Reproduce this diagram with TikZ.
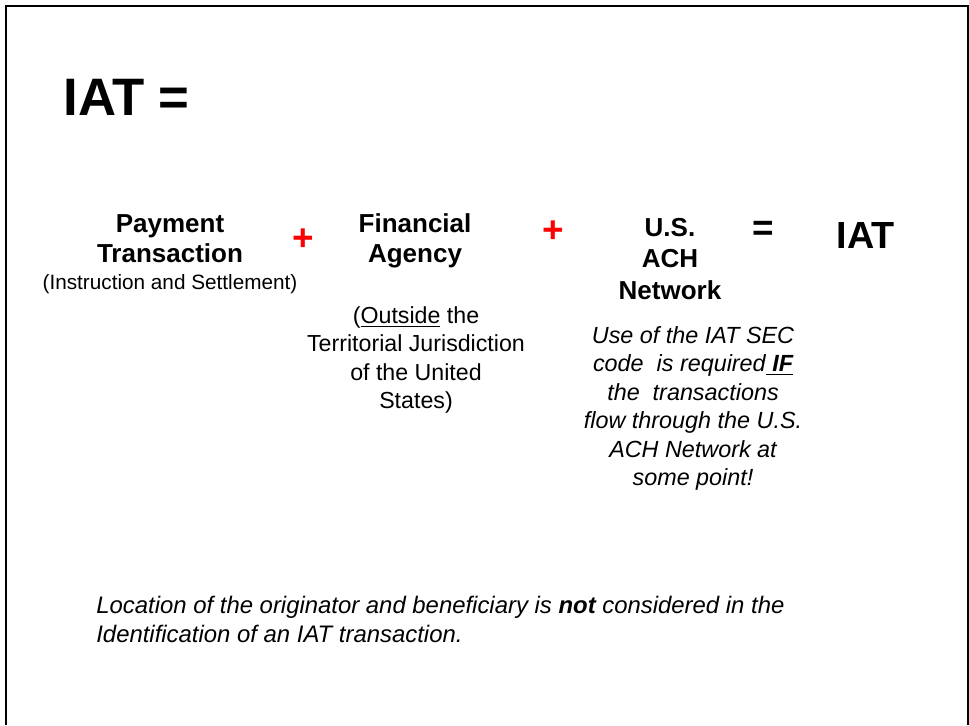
\documentclass[tikz,border=0pt]{standalone}
\usepackage{fontspec}
\setmainfont{Liberation Sans}
\tikzset{
  heading/.style={font=\bfseries\fontsize{14.8}{17}\selectfont, align=center, anchor=north, inner sep=0pt},
  note/.style={font=\fontsize{13.2}{16.2}\selectfont, align=center, anchor=north, inner sep=0pt},
  remark/.style={font=\itshape\fontsize{13.3}{16.2}\selectfont, align=center, anchor=north, inner sep=0pt},
  plus/.style={font=\bfseries\fontsize{21}{25}\selectfont, text=red, inner sep=0pt},
  equals/.style={font=\bfseries\fontsize{21}{25}\selectfont, inner sep=0pt},
}

\begin{document}
\begin{tikzpicture}[x=0.02cm, y=-0.02cm]
    \useasboundingbox (0,0) rectangle (969,725);
    \draw[line width=1.13pt] (6,725) -- (6,6) -- (968,6) -- (968,725);
    \node[anchor=base west, inner sep=0pt, font=\bfseries\fontsize{30}{36}\selectfont] (title) at (63,115) {IAT =};
    % the terms of the sum
    \node[heading] (payment) at (170,214) {Payment\\Transaction};
    \node[anchor=base, inner sep=0pt, font=\fontsize{11.8}{14}\selectfont] (paynote) at (170,289) {(Instruction and Settlement)};
    \node[plus] (plusA) at (303,240) {+};
    \node[heading] (agency) at (415,213) {Financial\\Agency};
    \node[note] (outside) at (416,306) {(\underline{Outside} the\\Territorial Jurisdiction\\of the United\\States)};
    \node[plus] (plusB) at (553,232) {+};
    \node[heading, font=\bfseries\fontsize{14.8}{17.9}\selectfont] (network) at (670,218) {U.S.\\ACH\\Network};
    \node[remark] (usage) at (693,326) {Use of the IAT SEC\\code~ is required\underline{\textbf{\ IF}}\\the~ transactions\\flow through the U.S.\\ACH Network at\\some point!};
    \node[equals] (eq) at (763,231) {=};
    \node[anchor=base, inner sep=0pt, font=\bfseries\fontsize{21.5}{25}\selectfont] (result) at (866,248) {IAT};
    % footnote
    \node[anchor=north west, align=left, inner sep=0pt, font=\itshape\fontsize{13.6}{16.4}\selectfont] (location) at (96,596) {Location of the originator and beneficiary is \textbf{not} considered in the\\Identification of an IAT transaction.};
\end{tikzpicture}
\end{document}
